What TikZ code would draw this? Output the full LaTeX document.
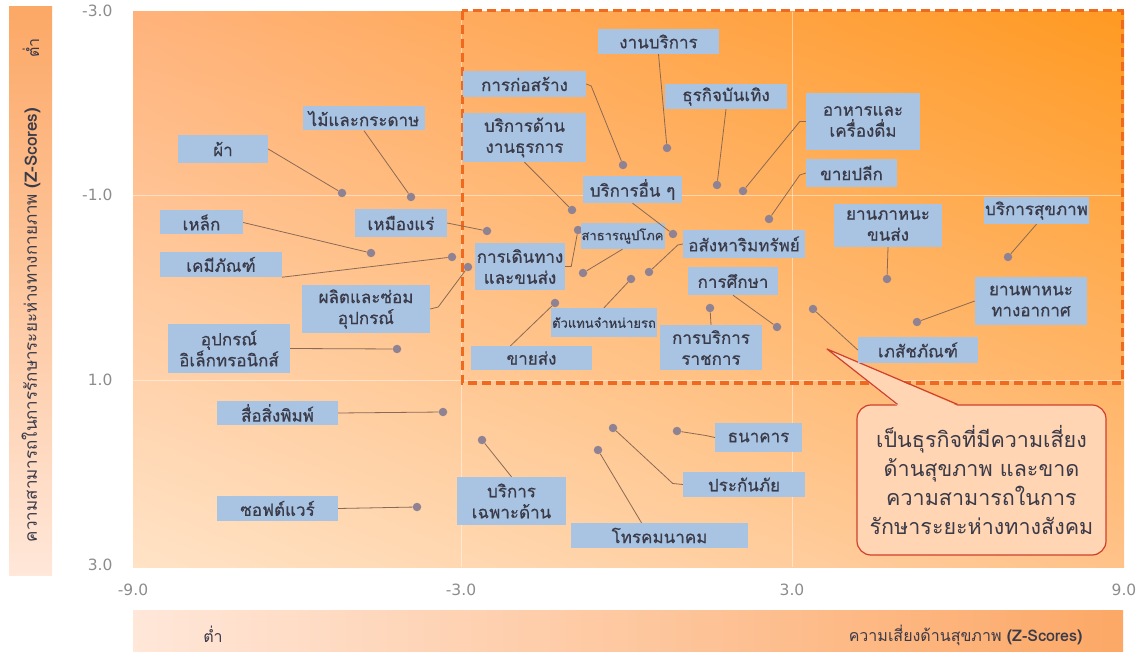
\documentclass[tikz,border=0pt]{standalone}
\usepackage{fontspec}
\setmainfont[Script=Thai]{Loma}
\newfontfamily\lblfont[Script=Thai, FakeBold=0.6]{Loma}
\newfontfamily\tickfont{DejaVu Sans}
\usetikzlibrary{shadings}
\definecolor{boxblue}{HTML}{A8C4E2}
\definecolor{labeltext}{HTML}{3A3A48}
\definecolor{dotgray}{HTML}{8F8393}
\definecolor{leadbrown}{HTML}{8A6A55}
\definecolor{dashorange}{HTML}{EF6A1F}
\definecolor{calred}{HTML}{CF3F2C}
\definecolor{calfill}{HTML}{FFD5B3}
\definecolor{tickgray}{HTML}{8C8C8C}
\definecolor{barhi}{HTML}{FCA866}
\definecolor{barmid}{HTML}{FDC9A0}
\definecolor{barlo}{HTML}{FFE7D9}
\definecolor{plotul}{HTML}{FFB37C}
\definecolor{plotur}{HTML}{FF9A22}
\definecolor{plotll}{HTML}{FFE3C6}
\definecolor{plotlr}{HTML}{FFC289}
\newcommand{\dotsz}{8.5pt}
\newcommand{\lblsize}{\fontsize{17}{21}\selectfont}

\begin{document}
\begin{tikzpicture}[x=1pt,y=-1pt]
	\tikzset{
		lbl/.style={fill=boxblue, text=labeltext, font=\lblfont\lblsize, align=center, inner sep=1pt},
		smalllbl/.style={lbl, font=\lblfont\fontsize{13}{15}\selectfont},
		dot/.style={circle, fill=dotgray, inner sep=0pt, minimum size=\dotsz},
		lead/.style={draw=leadbrown, line width=0.8pt},
		tick/.style={text=tickgray, font=\tickfont\fontsize{15.5}{17}\selectfont},
		gridln/.style={draw=white, opacity=0.45, line width=0.8pt},
		axlbl/.style={text=labeltext, font=\fontsize{16}{18}\selectfont},
		note/.style={draw=calred, line width=1.2pt, fill=calfill, rounded corners=14pt,
			text=labeltext, align=center, font=\fontsize{21.5}{29}\selectfont}
	}
	\useasboundingbox (0,0) rectangle (1141,652);
	%\draw[help lines, step=50] (0,0) grid (1141,652);

	% bars and plot area
	\shade[top color=barhi, middle color=barmid, bottom color=barlo] (9,7) rectangle (52,575);
	\shade[left color=barlo, middle color=barmid, right color=barhi] (133,610) rectangle (1123,652);
	\shade[upper left=plotul, upper right=plotur, lower left=plotll, lower right=plotlr] (133,12) rectangle (1124,567);
	\draw[gridln] (461,12) -- (461,567);
	\draw[gridln] (792,12) -- (792,567);
	\draw[gridln] (133,195) -- (1124,195);
	\draw[gridln] (133,380) -- (1124,380);
	\draw[dashorange, line width=3pt, dash pattern=on 9pt off 5pt] (462,11) rectangle (1122,383);

	% ticks
	\foreach \v/\yy in {-3.0/11,-1.0/195,1.0/380,3.0/565}
		\node[tick, anchor=east] (yt\yy) at (116,\yy) {\v};
	\foreach \v/\xx in {-9.0/133,-3.0/461,3.0/792,9.0/1124}
		\node[tick] (xt\xx) at (\xx,590) {\v};

	% axis titles
	\node[axlbl, rotate=90, font=\fontsize{17}{19}\selectfont] (ylab) at (31,325) {ความสามารถในการรักษาระยะห่างทางกายภาพ \textbf{(Z-Scores)}};
	\node[axlbl, rotate=90] (ylow) at (31,48) {ต่ำ};
	\node[axlbl, anchor=east] (xlab) at (1086,635) {ความเสี่ยงด้านสุขภาพ \textbf{(Z-Scores)}};
	\node[axlbl] (xlow) at (213,634) {ต่ำ};

	% callout
	\node[note, minimum width=249pt, minimum height=150pt] (note) at (981.5,480)
		{เป็นธุรกิจที่มีความเสี่ยง\\ด้านสุขภาพ และขาด\\ความสามารถในการ\\รักษาระยะห่างทางสังคม};
	\coordinate (tip) at (827,349);
	\fill[calfill] ([xshift=-84pt,yshift=-1.5pt]note.north) -- (tip) -- ([xshift=-24pt,yshift=-1.5pt]note.north) -- cycle;
	\draw[calred, line width=1.2pt, line join=round] ([xshift=-84pt]note.north) -- (tip) -- ([xshift=-24pt]note.north);

	% data points
	\node[dot] (d-pha) at (342,193) {};
	\node[dot] (d-mai) at (411,197) {};
	\node[dot] (d-lek) at (371,253) {};
	\node[dot] (d-chem) at (452,257) {};
	\node[dot] (d-mine) at (487,231) {};
	\node[dot] (d-repair) at (468,267) {};
	\node[dot] (d-elec) at (397,349) {};
	\node[dot] (d-print) at (443,412) {};
	\node[dot] (d-soft) at (417,507) {};
	\node[dot] (d-service) at (667,148) {};
	\node[dot] (d-constr) at (623,165) {};
	\node[dot] (d-admin) at (572,210) {};
	\node[dot] (d-ent) at (717,185) {};
	\node[dot] (d-food) at (743,191) {};
	\node[dot] (d-retail) at (769,219) {};
	\node[dot] (d-other) at (673,234) {};
	\node[dot] (d-travel) at (578,230) {};
	\node[dot] (d-util) at (583,273) {};
	\node[dot] (d-real) at (649,272) {};
	\node[dot] (d-dealer) at (631,279) {};
	\node[dot] (d-edu) at (777,327) {};
	\node[dot] (d-gov) at (710,308) {};
	\node[dot] (d-whole) at (555,303) {};
	\node[dot] (d-transp) at (887,279) {};
	\node[dot] (d-health) at (1008,257) {};
	\node[dot] (d-air) at (917,322) {};
	\node[dot] (d-pharma) at (813,309) {};
	\node[dot] (d-bank) at (677,431) {};
	\node[dot] (d-insur) at (613,428) {};
	\node[dot] (d-spec) at (482,440) {};
	\node[dot] (d-tele) at (598,450) {};

	% labels
	\node[lbl, minimum width=90pt, minimum height=28pt] (pha) at (223,149) {ผ้า};
	\node[lbl, minimum width=122pt, minimum height=24pt] (mai) at (364,118.5) {ไม้และกระดาษ};
	\node[lbl, minimum width=83pt, minimum height=24pt] (lek) at (201.5,222.5) {เหล็ก};
	\node[lbl, minimum width=122pt, minimum height=25pt] (chem) at (221,264.5) {เคมีภัณฑ์};
	\node[lbl, minimum width=92pt, minimum height=28pt] (mine) at (401,223) {เหมืองแร่};
	\node[lbl, minimum width=128pt, minimum height=48pt] (repair) at (366,309) {ผลิตและซ่อม\\อุปกรณ์};
	\node[lbl, minimum width=122pt, minimum height=49pt] (elec) at (229,348.5) {อุปกรณ์\\อิเล็กทรอนิกส์};
	\node[lbl, minimum width=121pt, minimum height=24pt] (print) at (277.5,413) {สื่อสิ่งพิมพ์};
	\node[lbl, minimum width=121pt, minimum height=25pt] (soft) at (277.5,508.5) {ซอฟต์แวร์};
	\node[lbl, minimum width=121pt, minimum height=25pt] (service) at (658.5,41.5) {งานบริการ};
	\node[lbl, minimum width=123pt, minimum height=26pt] (constr) at (524.5,84) {การก่อสร้าง};
	\node[lbl, minimum width=123pt, minimum height=49pt] (admin) at (524.5,137.5) {บริการด้าน\\งานธุรการ};
	\node[lbl, minimum width=122pt, minimum height=25pt] (ent) at (726,96.5) {ธุรกิจบันเทิง};
	\node[lbl, minimum width=114pt, minimum height=57pt] (food) at (863,121.5) {อาหารและ\\เครื่องดื่ม};
	\node[lbl, minimum width=91pt, minimum height=28pt] (retail) at (851.5,173) {ขายปลีก};
	\node[lbl, minimum width=99pt, minimum height=27pt] (other) at (632.5,189.5) {บริการอื่น ๆ};
	\node[lbl, minimum width=90pt, minimum height=47pt] (travel) at (520,266.5) {การเดินทาง\\และขนส่ง};
	\node[smalllbl, minimum width=71pt, minimum height=26pt] (util) at (622.5,236) {สาธารณูปโภค};
	\node[lbl, minimum width=122pt, minimum height=28pt] (real) at (744,244) {อสังหาริมทรัพย์};
	\node[smalllbl, minimum width=98pt, minimum height=29pt] (dealer) at (604,322.5) {ตัวแทนจำหน่ายรถ};
	\node[lbl, minimum width=90pt, minimum height=28pt] (edu) at (733,281) {การศึกษา};
	\node[lbl, minimum width=102pt, minimum height=45pt] (gov) at (711,347.5) {การบริการ\\ราชการ};
	\node[lbl, minimum width=121pt, minimum height=24pt] (whole) at (531.5,358) {ขายส่ง};
	\node[lbl, minimum width=108pt, minimum height=43pt] (transp) at (888,225.5) {ยานภาหนะ\\ขนส่ง};
	\node[lbl, minimum width=99pt, minimum height=27pt] (health) at (1036.5,210.5) {บริการสุขภาพ};
	\node[lbl, minimum width=112pt, minimum height=48pt] (air) at (1031,301) {ยานพาหนะ\\ทางอากาศ};
	\node[lbl, minimum width=120pt, minimum height=26pt] (pharma) at (918,350) {เภสัชภัณฑ์};
	\node[lbl, minimum width=87pt, minimum height=29pt] (bank) at (758.5,437.5) {ธนาคาร};
	\node[lbl, minimum width=122pt, minimum height=25pt] (insur) at (744,484.5) {ประกันภัย};
	\node[lbl, minimum width=109pt, minimum height=48pt] (spec) at (511.5,501) {บริการ\\เฉพาะด้าน};
	\node[lbl, minimum width=177pt, minimum height=25pt] (tele) at (659.5,535.5) {โทรคมนาคม};

	% leader lines
	\draw[lead] (pha.east) -- (d-pha);
	\draw[lead] (mai.south) -- (d-mai);
	\draw[lead] (lek.east) -- (d-lek);
	\draw[lead] (chem.south east) -- (d-chem);
	\draw[lead] (mine.east) -- (d-mine);
	\draw[lead] (repair.east) -- ++(8,-2) -- (d-repair);
	\draw[lead] (elec.east) -- (d-elec);
	\draw[lead] (print.east) -- (d-print);
	\draw[lead] (soft.east) -- (d-soft);
	\draw[lead] (service.south) -- (d-service);
	\draw[lead] (constr.east) -- ++(5,2) -- (d-constr);
	\draw[lead] (admin.south) -- (d-admin);
	\draw[lead] (ent.south) -- (d-ent);
	\draw[lead] (food.west) -- ++(-6,0) -- (d-food);
	\draw[lead] (retail.west) -- ++(-6,2) -- (d-retail);
	\draw[lead] (other.south) -- (d-other);
	\draw[lead] (travel.east) -- ++(6,0) -- (d-travel);
	\draw[lead] (util.south) -- (d-util);
	\draw[lead] (real.west) -- ++(-5,1) -- (d-real);
	\draw[lead] (dealer.north) -- (d-dealer);
	\draw[lead] (edu.south) -- (d-edu);
	\draw[lead] (gov.north) -- (d-gov);
	\draw[lead] ([xshift=-21pt]whole.north) -- (d-whole);
	\draw[lead] (transp.south) -- (d-transp);
	\draw[lead] (health.south) -- (d-health);
	\draw[lead] (air.west) -- (d-air);
	\draw[lead] (d-pharma) -- (pharma.west);
	\draw[lead] (bank.west) -- ++(-9,-2) -- (d-bank);
	\draw[lead] (insur.west) -- ++(-10,-1) -- (d-insur);
	\draw[lead] (spec.north) -- (d-spec);
	\draw[lead] ([xshift=-18pt]tele.north) -- (d-tele);
\end{tikzpicture}
\end{document}
